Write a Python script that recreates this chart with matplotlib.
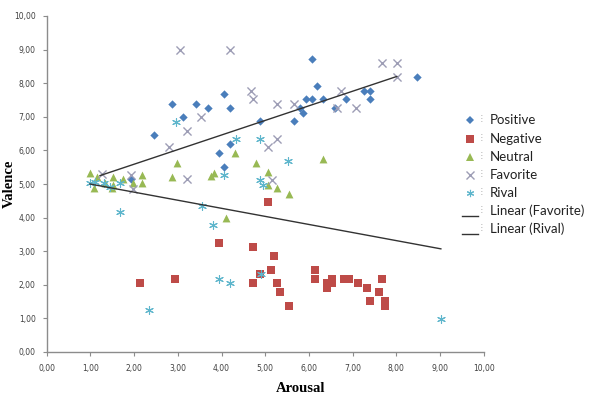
import matplotlib
matplotlib.use("Agg")
import matplotlib.pyplot as plt
from matplotlib.lines import Line2D
from matplotlib.ticker import FuncFormatter, MultipleLocator

# ---------------- data ----------------
pos_x = [1.94, 2.46, 2.87, 3.13, 3.41, 3.68, 3.94, 4.06, 4.06, 4.19, 4.19, 4.87, 5.67, 5.80,
         5.86, 5.93, 6.06, 6.06, 6.19, 6.33, 6.60, 6.86, 7.26, 7.40, 7.40, 8.47]
pos_y = [5.15, 6.46, 7.39, 6.98, 7.39, 7.25, 5.93, 7.67, 5.52, 7.25, 6.19, 6.88, 6.88, 7.25,
         7.12, 7.53, 7.53, 8.72, 7.92, 7.53, 7.25, 7.53, 7.78, 7.78, 7.53, 8.19]

neg_x = [2.13, 2.94, 3.94, 4.73, 4.73, 4.88, 5.07, 5.13, 5.20, 5.26, 5.34, 5.54, 6.14, 6.14,
         6.41, 6.41, 6.54, 6.54, 6.80, 6.92, 7.13, 7.34, 7.40, 7.60, 7.67, 7.73, 7.73]
neg_y = [2.06, 2.17, 3.24, 3.12, 2.04, 2.31, 4.45, 2.44, 2.86, 2.04, 1.78, 1.37, 2.44, 2.17,
         2.04, 1.91, 2.17, 2.06, 2.17, 2.17, 2.04, 1.91, 1.51, 1.78, 2.17, 1.52, 1.37]

neu_x = [0.99, 1.14, 1.08, 1.33, 1.49, 1.52, 1.52, 1.74, 1.98, 2.17, 2.17, 2.86, 2.99, 3.76,
         3.83, 4.10, 4.31, 4.79, 5.07, 5.07, 5.28, 5.55, 6.32]
neu_y = [5.32, 5.20, 4.87, 5.02, 4.87, 4.97, 5.22, 5.14, 5.02, 5.27, 5.04, 5.20, 5.62, 5.24,
         5.32, 4.00, 5.93, 5.62, 5.37, 4.97, 4.87, 4.70, 5.74]

fav_x = [1.26, 1.92, 1.98, 2.80, 3.06, 3.20, 3.20, 3.53, 4.19, 4.67, 4.73, 5.07, 5.15, 5.26,
         5.26, 5.67, 6.65, 6.73, 7.07, 7.67, 8.01, 8.01]
fav_y = [5.30, 5.27, 4.84, 6.09, 8.99, 6.59, 5.14, 6.98, 8.99, 7.78, 7.52, 6.11, 5.12, 6.33,
         7.38, 7.38, 7.25, 7.78, 7.25, 8.59, 8.59, 8.19]

riv_x = [0.99, 1.10, 1.31, 1.45, 1.68, 1.68, 2.34, 2.97, 3.55, 3.80, 3.94, 4.06, 4.19, 4.33,
         4.87, 4.88, 4.90, 4.96, 5.53, 9.02]
riv_y = [5.02, 5.06, 5.04, 4.90, 5.04, 4.18, 1.25, 6.85, 4.35, 3.78, 2.17, 5.27, 2.06, 6.33,
         6.33, 5.12, 2.31, 4.97, 5.68, 0.98]

# trend lines (endpoints)
fav_trend_x = [1.22, 8.01]
fav_trend_y = [5.25, 8.20]
riv_trend_x = [0.99, 9.02]
riv_trend_y = [5.00, 3.07]

legend_labels = ["Positive", "Negative", "Neutral", "Favorite", "Rival",
                 "Linear (Favorite)", "Linear (Rival)"]

# ---------------- style ----------------
C_POS = "#4A7EBB"
C_NEG = "#BE4B48"
C_NEU = "#98B954"
C_FAV = "#9D9DB5"
C_RIV = "#5FB6CC"
C_LINE = "#333333"
STAR = (6, 2, 0)

W, H = 591, 398
fig = plt.figure(figsize=(W / 100, H / 100), dpi=100)
ax = fig.add_axes([46.7 / W, 1 - 352 / H, (483.7 - 46.7) / W, (352 - 16) / H])

ax.scatter(pos_x, pos_y, marker="D", s=18, color=C_POS, linewidths=0, zorder=3)
ax.scatter(neg_x, neg_y, marker="s", s=32, color=C_NEG, linewidths=0, zorder=3)
ax.scatter(neu_x, neu_y, marker="^", s=32, color=C_NEU, linewidths=0, zorder=3)
ax.scatter(fav_x, fav_y, marker="x", s=34, color=C_FAV, linewidths=1.0, zorder=3)
ax.scatter(riv_x, riv_y, marker=STAR, s=32, color=C_RIV, linewidths=0.8, zorder=3)
ax.plot(fav_trend_x, fav_trend_y, color=C_LINE, lw=1.0, zorder=4)
ax.plot(riv_trend_x, riv_trend_y, color=C_LINE, lw=1.0, zorder=4)

ax.set_xlim(0, 10)
ax.set_ylim(0, 10)
ax.xaxis.set_major_locator(MultipleLocator(1))
ax.yaxis.set_major_locator(MultipleLocator(1))
fmt = FuncFormatter(lambda v, p: f"{v:.2f}".replace(".", ","))
ax.xaxis.set_major_formatter(fmt)
ax.yaxis.set_major_formatter(fmt)
for s in ["top", "right"]:
    ax.spines[s].set_visible(False)
for s in ["left", "bottom"]:
    ax.spines[s].set_color("#8C8C8C")
    ax.spines[s].set_linewidth(1.0)
ax.tick_params(axis="both", direction="out", length=3, width=0.8, color="#8C8C8C",
               labelsize=5.5, labelcolor="#404040")
ax.tick_params(axis="y", pad=5)
ax.tick_params(axis="x", pad=6)
for lab in ax.get_xticklabels() + ax.get_yticklabels():
    lab.set_family("DejaVu Sans")

fig.text(9 / W, 1 - 184 / H, "Valence", rotation=90, ha="center", va="center",
         family="Liberation Serif", fontweight="bold", fontsize=10.5)
fig.text(301 / W, 1 - 388 / H, "Arousal", ha="center", va="center",
         family="Liberation Serif", fontweight="bold", fontsize=10.5)

# ---------------- legend ----------------
styles = [
    dict(marker="D", ms=4.2, color=C_POS, ls="none", mew=0),
    dict(marker="s", ms=5.2, color=C_NEG, ls="none", mew=0),
    dict(marker="^", ms=5.2, color=C_NEU, ls="none", mew=0),
    dict(marker="x", ms=5.2, color=C_FAV, ls="none", mew=1.0),
    dict(marker=STAR, ms=5.2, color=C_RIV, ls="none", mew=0.8),
]
row_y = [120, 139, 157, 175, 193, 211, 229]
for i, (lab, yp) in enumerate(zip(legend_labels, row_y)):
    yf = 1 - yp / H
    if i < 5:
        fig.add_artist(Line2D([470 / W], [yf], transform=fig.transFigure, **styles[i]))
    else:
        yl = 1 - (yp + 5) / H
        fig.add_artist(Line2D([462 / W, 478 / W], [yl, yl], transform=fig.transFigure,
                              color=C_LINE, lw=1.0))
    fig.text(482 / W, yf, "⁝", ha="center", va="center", fontsize=8, color="#B0B0B0",
             family="DejaVu Sans")
    fig.text(490 / W, yf, lab, ha="left", va="center", fontsize=9.5, color="#222222",
             family="Lato")

fig.savefig("out.png", dpi=100)
